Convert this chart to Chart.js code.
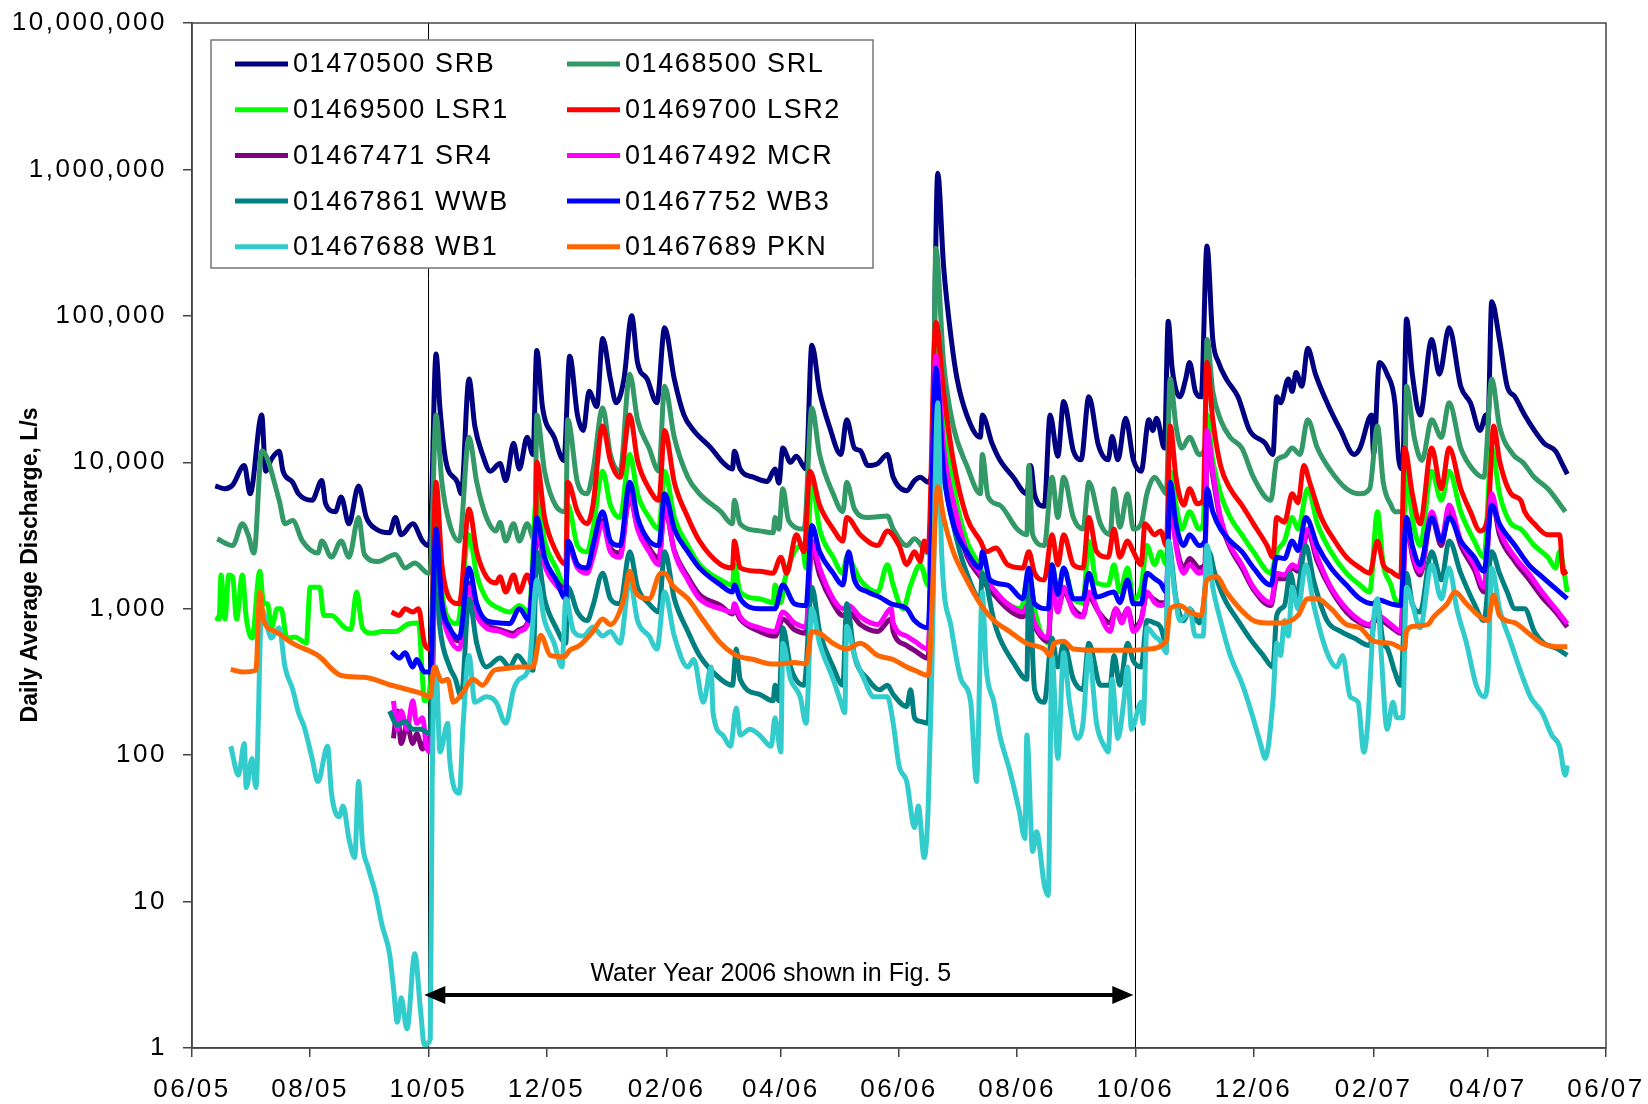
<!DOCTYPE html>
<html>
<head>
<meta charset="utf-8">
<script src="https://cdn.jsdelivr.net/npm/chart.js@4.4.0/dist/chart.umd.min.js"></script>
<style>
  html, body { margin: 0; padding: 0; background: #fff; }
</style>
</head>
<body>
<canvas id="flow" width="1648" height="1104"></canvas>
<script>
// x values are days since 1 June 2005, y values are daily average discharge in L/s
const tickDays = [0, 61, 122, 183, 245, 304, 365, 426, 487, 548, 610, 669, 730];
const tickLabels = ['06/05', '08/05', '10/05', '12/05', '02/06', '04/06', '06/06', '08/06', '10/06', '12/06', '02/07', '04/07', '06/07'];
const yTicks = [1, 10, 100, 1000, 10000, 100000, 1000000, 10000000];

const names = ['01470500 SRB', '01468500 SRL', '01469500 LSR1', '01469700 LSR2', '01467471 SR4',
               '01467492 MCR', '01467861 WWB', '01467752 WB3', '01467688 WB1', '01467689 PKN'];
const colors = ['#000080', '#339966', '#00FF00', '#FF0000', '#800080',
                '#FF00FF', '#008080', '#0000FF', '#33CCCC', '#FF6600'];

// water year 2006 marker
const waterYearStart = 122;
const waterYearEnd = 487;
const arrowLevel = 2.3;
const arrowText = 'Water Year 2006 shown in Fig. 5';

const srb = [[12,6900],[17,6600],[21,7000],[27,9500],[30,6100],[36,21000],[38,8700],[41,10500],[45,11900],[47,8700],[52,7300],[55,6100],[62,5500],[67,7500],[69,5200],[74,4600],[77,5800],[81,3800],[86,6900],[90,4200],[95,3500],[102,3300],[105,4200],[108,3200],[114,3800],[119,2900],[122,2700],[123,3000],[126,55000],[128,23500],[131,10300],[137,7300],[139,6100],[143,37000],[146,17700],[150,11300],[154,8700],[159,9800],[162,7500],[166,13500],[169,9000],[173,14800],[176,11300],[178,58000],[181,23500],[187,14800],[192,10300],[195,53000],[199,21000],[202,16500],[205,30500],[209,24000],[212,70000],[216,37000],[219,25500],[223,37000],[227,100000],[230,48000],[235,37000],[240,25500],[244,83000],[249,37000],[254,21000],[259,16500],[268,12500],[274,10000],[279,9000],[280,11900],[283,9000],[290,7900],[297,7400],[301,9000],[303,7200],[305,12500],[309,10000],[312,11000],[317,9000],[320,63000],[324,30500],[329,17700],[335,11300],[338,19500],[342,12500],[345,12000],[349,9500],[354,9800],[359,11300],[362,7900],[369,6400],[373,7500],[376,7900],[380,7300],[382,9000],[385,940000],[388,220000],[392,69000],[395,37000],[400,21000],[407,14800],[408,21000],[413,13500],[417,10400],[424,7900],[431,6100],[433,9500],[435,6000],[440,5000],[443,21000],[447,11000],[450,26000],[455,12000],[459,10400],[463,28000],[468,13000],[473,10400],[475,15000],[478,10400],[482,20000],[486,10400],[490,8700],[494,19500],[496,16500],[498,20000],[502,12500],[504,92000],[506,44000],[510,28000],[513,37000],[515,48000],[518,30500],[521,28000],[524,300000],[527,69000],[530,48000],[534,37000],[540,28000],[546,16500],[554,13500],[558,11300],[560,28000],[562,25500],[566,37000],[568,30500],[570,41000],[573,33000],[576,60000],[580,40000],[586,25500],[593,16500],[600,11300],[603,12500],[609,21000],[610,11300],[613,48000],[617,40000],[621,25500],[623,10500],[625,9000],[627,95000],[630,40000],[634,21000],[640,69000],[644,40000],[649,83000],[655,33000],[660,25500],[665,16500],[668,21000],[669,18000],[671,125000],[675,69000],[679,33000],[683,28000],[688,21000],[693,16500],[698,13500],[704,11900],[707,10000],[710,8300]];

const srl = [[13,3000],[21,2700],[26,3800],[29,3200],[32,2400],[36,12000],[45,5500],[48,3800],[52,4000],[57,2900],[65,2400],[67,2900],[72,2250],[77,2900],[81,2250],[86,4200],[89,2350],[96,2100],[105,2350],[110,1900],[115,2050],[122,1750],[123,1800],[126,21000],[129,7300],[133,3800],[138,2900],[143,14800],[147,7300],[152,4200],[157,3400],[159,3900],[162,2900],[166,3800],[169,2900],[173,3800],[177,2900],[178,21000],[182,8700],[188,5000],[193,4600],[194,19500],[199,7300],[204,6100],[207,8700],[212,23500],[216,11300],[221,8700],[226,40000],[230,19500],[236,12500],[241,8700],[244,33000],[249,14800],[256,7900],[262,6100],[273,4600],[279,3800],[280,5500],[283,3800],[293,3400],[300,3300],[301,4200],[303,3500],[305,6600],[308,4000],[316,3500],[320,23500],[324,11300],[331,6100],[336,4600],[338,7300],[342,4800],[349,4200],[359,4300],[362,3500],[369,2700],[373,3000],[380,2400],[382,2600],[384,290000],[388,48000],[393,17700],[400,9500],[407,6100],[408,11300],[411,5800],[417,5100],[426,3500],[431,3200],[432,9500],[434,3200],[440,2700],[444,7900],[447,4200],[450,7900],[455,4200],[460,3500],[463,7300],[469,3800],[474,3200],[476,6600],[479,3600],[483,6100],[486,3500],[490,3800],[493,6100],[497,7900],[500,7000],[503,6100],[505,37000],[508,17700],[511,12500],[515,14800],[520,11300],[523,12500],[524,69000],[527,30500],[531,19500],[536,14800],[542,12500],[548,7900],[557,5500],[560,10300],[564,11000],[568,12500],[572,11300],[576,19500],[581,12500],[588,8700],[596,6600],[603,6100],[608,6600],[612,17700],[615,7300],[619,5100],[621,4600],[626,4600],[627,33000],[631,14800],[635,10300],[640,19500],[645,14800],[649,25500],[655,12500],[662,8700],[667,7900],[671,37000],[675,17700],[682,11300],[687,10000],[693,7900],[700,6600],[709,4600]];

const lsr1 = [[12,870],[14,850],[15,1700],[17,850],[19,1700],[21,1650],[23,850],[26,1700],[28,870],[31,630],[35,1800],[37,1080],[39,1080],[41,740],[44,1000],[46,1000],[49,630],[53,640],[57,600],[59,580],[61,1400],[66,1400],[68,900],[72,900],[79,740],[82,720],[85,1300],[88,740],[93,680],[98,700],[105,700],[112,790],[117,800],[119,330],[120,235],[123,300],[126,4200],[129,1300],[133,830],[137,790],[143,3200],[147,1700],[152,1170],[159,1000],[164,950],[169,1050],[174,950],[178,6100],[182,2900],[188,1900],[193,1400],[194,5100],[199,2700],[204,2450],[207,3500],[212,8700],[216,5100],[221,4200],[226,11300],[230,6100],[236,4200],[241,3500],[244,8700],[249,4200],[256,2700],[262,2000],[273,1570],[279,1450],[280,2000],[283,1300],[293,1170],[300,1100],[301,1450],[304,1100],[306,1570],[311,2450],[315,2700],[317,1900],[320,7300],[324,3500],[331,2250],[336,1750],[338,2250],[345,1570],[354,1300],[359,2000],[362,1450],[367,1000],[371,1450],[376,2000],[380,1450],[384,60000],[388,21000],[395,5100],[400,2900],[407,1900],[410,1450],[417,1170],[428,1000],[432,1750],[435,1000],[438,700],[442,580],[444,2000],[447,1200],[450,1900],[455,1170],[460,1100],[463,2900],[467,1500],[473,1450],[476,2000],[479,1300],[483,1900],[486,1170],[490,1400],[493,2700],[497,2000],[500,2450],[503,2000],[505,8700],[508,5100],[511,3500],[515,4600],[520,3500],[522,3800],[524,21000],[527,10300],[531,6100],[536,4200],[542,3200],[548,2450],[557,1750],[560,2450],[564,2900],[568,4200],[571,3500],[576,6600],[581,3800],[588,2450],[596,1750],[603,1450],[608,1300],[612,4600],[615,2000],[619,1450],[621,1170],[624,1100],[627,8700],[630,4200],[634,2700],[640,8700],[645,5500],[649,8700],[655,4600],[662,2900],[667,2250],[671,12500],[675,6100],[681,3800],[686,3500],[693,2700],[700,2250],[704,1900],[706,2450],[710,1300]];

const lsr2 = [[103,950],[107,900],[110,1000],[114,950],[117,1000],[120,580],[123,530],[126,7300],[129,2000],[133,1170],[138,1080],[143,4800],[147,2450],[152,1650],[157,1500],[159,1650],[162,1300],[166,1700],[169,1300],[173,1700],[177,1300],[178,10000],[182,4200],[188,2450],[193,2000],[194,7300],[199,4600],[204,3800],[207,5100],[212,17700],[216,10300],[221,7900],[226,21000],[230,10300],[236,6600],[241,5500],[244,16500],[249,7300],[256,4200],[262,2900],[273,2000],[279,1900],[280,2900],[283,1900],[293,1800],[300,1750],[304,2250],[307,1750],[312,3200],[316,2450],[319,8700],[324,5100],[331,3500],[336,2900],[338,4200],[345,3200],[354,2700],[359,3400],[365,2700],[369,2000],[373,2450],[376,2100],[378,2900],[380,2450],[384,90000],[388,30500],[393,10300],[400,4200],[407,2900],[410,2450],[415,2600],[421,2000],[429,1900],[432,2450],[435,1750],[440,1570],[444,3200],[447,2000],[450,3200],[455,2000],[460,1900],[463,4200],[467,2450],[473,2250],[476,3500],[479,2250],[483,2900],[486,2450],[490,2000],[492,3800],[497,3200],[500,3400],[503,2700],[505,17700],[508,7900],[512,5100],[515,6600],[519,5200],[522,5500],[524,48000],[527,19500],[531,9500],[536,6600],[542,5100],[548,3800],[555,2700],[558,2250],[560,4200],[564,3900],[568,6100],[571,5300],[574,9500],[577,7300],[583,4200],[590,2900],[596,2250],[603,1900],[608,1750],[612,2900],[615,2000],[619,1800],[624,1650],[626,12500],[630,6100],[634,3800],[640,12500],[645,6600],[649,12500],[655,6600],[660,4600],[665,3400],[669,4200],[672,17700],[675,10300],[681,6100],[686,5500],[688,4600],[693,3800],[700,3200],[706,3200],[708,1750],[710,1800]];

const sr4 = [[104,130],[106,200],[108,120],[111,160],[114,120],[116,140],[119,110],[121,130],[123,120],[126,2600],[129,1100],[133,700],[138,600],[143,1500],[147,950],[152,780],[159,720],[166,680],[169,720],[174,850],[178,3200],[182,2100],[188,1550],[193,1350],[194,2800],[199,2000],[204,1850],[207,2400],[212,4000],[216,2600],[221,2400],[226,5800],[230,3600],[236,2600],[241,2200],[244,4800],[249,2500],[256,1650],[262,1250],[273,1050],[279,920],[280,1000],[283,850],[293,700],[301,650],[305,850],[311,720],[317,680],[320,2600],[324,1700],[331,1080],[336,900],[339,950],[345,780],[354,700],[361,850],[362,700],[369,560],[373,520],[380,460],[384,50000],[388,12000],[395,4000],[400,2300],[407,1650],[412,1350],[421,1000],[429,880],[432,1000],[435,760],[442,600],[444,1300],[447,1000],[450,1300],[455,1000],[460,900],[463,1200],[468,950],[474,800],[477,1000],[480,850],[483,1000],[486,750],[490,850],[493,1250],[497,1150],[500,1100],[503,1100],[505,5500],[508,2800],[512,1900],[515,2200],[520,1900],[523,2000],[524,15000],[527,8000],[531,4000],[536,2600],[542,1900],[548,1350],[557,1050],[560,1600],[564,1600],[568,1900],[571,1800],[576,3300],[581,2100],[588,1350],[596,950],[603,800],[608,760],[612,850],[619,750],[624,680],[627,3900],[630,2300],[634,1700],[640,4200],[645,2700],[649,4700],[655,2700],[662,1850],[667,1300],[671,5600],[675,3200],[683,2100],[690,1600],[697,1200],[704,950],[710,750]];

const mcr = [[104,235],[106,150],[108,200],[111,150],[114,235],[116,165],[119,180],[121,115],[123,105],[126,2900],[129,1000],[133,630],[138,530],[143,1400],[147,900],[152,740],[159,700],[166,650],[169,700],[174,830],[178,3500],[182,2000],[188,1450],[193,1300],[194,2700],[199,1900],[204,1750],[207,2250],[212,3800],[216,2450],[221,2250],[226,6100],[230,3500],[236,2450],[241,2000],[244,5100],[249,2450],[256,1570],[262,1170],[273,1000],[279,950],[280,1080],[283,880],[293,740],[301,700],[305,950],[311,800],[317,750],[320,2900],[324,1900],[331,1170],[336,1000],[339,1050],[345,880],[354,780],[361,1000],[362,800],[369,650],[373,600],[380,530],[384,53000],[388,12500],[395,4200],[400,2450],[407,1750],[412,1450],[421,1080],[429,950],[432,1080],[435,800],[442,630],[444,1400],[447,950],[450,1400],[455,950],[460,880],[463,1300],[468,950],[474,700],[477,1000],[480,800],[483,1000],[486,700],[490,830],[493,1300],[497,1100],[500,1050],[503,1100],[505,6100],[508,2700],[512,1750],[515,2000],[520,1750],[523,1900],[524,16500],[527,8700],[531,4200],[536,2700],[542,2000],[548,1400],[557,1100],[560,1750],[564,1700],[568,2000],[571,1900],[576,3500],[581,2250],[588,1400],[596,1000],[603,830],[608,780],[612,900],[619,780],[624,700],[627,4200],[630,2450],[634,1800],[640,4600],[645,2900],[649,5100],[655,2900],[662,2000],[667,1400],[671,6100],[675,3500],[683,2250],[690,1750],[697,1300],[704,1000],[710,790]];

const wwb = [[102,200],[106,160],[110,170],[114,150],[118,150],[123,140],[125,2450],[128,740],[133,400],[136,330],[139,250],[143,1170],[147,580],[152,400],[159,460],[164,400],[168,480],[173,400],[176,380],[178,2450],[182,1170],[188,740],[193,580],[194,1400],[199,950],[204,830],[207,1050],[212,1750],[216,1170],[221,1080],[226,2450],[230,1400],[236,1080],[241,950],[244,2450],[249,1170],[256,700],[262,480],[273,330],[279,300],[281,530],[283,330],[293,260],[300,235],[301,300],[303,235],[305,740],[309,400],[316,300],[320,1400],[324,700],[331,400],[336,300],[338,1080],[342,480],[349,330],[355,280],[359,300],[362,260],[369,215],[371,280],[373,180],[376,170],[380,165],[382,2450],[384,30000],[388,8700],[395,2900],[400,1750],[407,1170],[408,1750],[414,830],[417,630],[424,430],[431,330],[432,1750],[435,280],[440,230],[444,630],[447,400],[450,580],[455,330],[460,280],[463,580],[469,300],[474,300],[476,480],[479,300],[483,580],[486,440],[490,400],[493,830],[497,800],[500,750],[503,580],[504,2900],[508,1170],[512,830],[515,1000],[520,800],[522,1000],[525,2450],[528,1750],[533,1170],[540,830],[546,630],[553,480],[558,400],[560,900],[564,1050],[567,1750],[570,1200],[575,2700],[579,1570],[586,830],[593,700],[600,630],[608,560],[612,1080],[615,580],[617,540],[621,370],[624,300],[627,1750],[630,1080],[634,950],[640,2450],[645,1570],[649,2900],[655,1750],[662,1080],[667,830],[671,2450],[675,1750],[679,1300],[683,1000],[688,1000],[693,700],[698,580],[704,540],[710,480]];

const wb3 = [[103,510],[107,460],[110,500],[114,400],[116,450],[120,370],[123,370],[126,3500],[129,1080],[133,740],[138,630],[143,1900],[147,1080],[152,830],[159,800],[164,790],[169,1000],[174,830],[178,4200],[182,2250],[188,1570],[193,1170],[194,2900],[199,2000],[204,1900],[207,2700],[212,4600],[216,2900],[221,2700],[226,7300],[230,4200],[236,2900],[241,2700],[244,6100],[249,3500],[256,2450],[262,1900],[273,1450],[279,1300],[280,1450],[283,1170],[293,1000],[301,1000],[305,1450],[311,1080],[317,1050],[320,3700],[324,2450],[331,1750],[336,1450],[339,2450],[342,1570],[349,1300],[355,1200],[361,1080],[369,1000],[373,830],[380,740],[384,44000],[388,8700],[393,3800],[400,2450],[407,1900],[408,2450],[412,1570],[421,1450],[429,1170],[432,1900],[435,1080],[442,1000],[444,2000],[447,1250],[450,1900],[455,1170],[460,1170],[463,1750],[467,1200],[476,1300],[479,1100],[483,1570],[486,1080],[490,1080],[493,1750],[497,1600],[500,1500],[503,1300],[505,7300],[508,3800],[512,2700],[515,3200],[520,2700],[523,2900],[524,6600],[527,4600],[531,3500],[536,2900],[542,2450],[548,1900],[557,1450],[560,2250],[564,2200],[568,2900],[571,2500],[575,4200],[581,2700],[588,1900],[596,1450],[603,1170],[610,1080],[612,1150],[619,1080],[624,1050],[627,4200],[630,2700],[634,2000],[640,4200],[645,2900],[649,4200],[655,2900],[662,2250],[667,1800],[671,5100],[675,3800],[683,2700],[690,2000],[697,1650],[704,1370],[710,1170]];

const wb1 = [[20,115],[24,73],[27,120],[28,60],[31,95],[33,60],[36,1000],[39,740],[41,630],[45,740],[48,400],[52,280],[55,195],[58,155],[62,95],[65,66],[70,115],[72,55],[76,38],[78,45],[81,27],[84,20],[86,66],[88,25],[91,17],[95,11],[98,7],[102,4.4],[104,2.6],[106,1.5],[108,2.2],[111,1.35],[115,4.4],[118,1.8],[120,1.05],[123,1.15],[124,66],[126,400],[128,105],[132,165],[133,95],[138,55],[140,165],[143,480],[146,230],[152,250],[157,230],[162,165],[166,280],[169,330],[174,400],[178,1570],[182,830],[187,580],[191,400],[193,1170],[197,700],[202,650],[207,750],[212,650],[216,700],[221,580],[226,1570],[230,830],[236,650],[240,530],[244,1300],[249,650],[256,400],[259,450],[264,230],[268,400],[269,195],[274,137],[278,115],[281,210],[283,137],[288,150],[293,137],[299,115],[301,180],[304,105],[305,580],[309,330],[314,250],[317,165],[320,1000],[324,580],[331,330],[335,230],[337,195],[338,760],[342,480],[347,330],[352,250],[359,250],[362,165],[365,85],[369,66],[373,32],[375,45],[378,20],[380,42],[382,400],[385,25500],[387,2450],[392,740],[397,330],[402,230],[405,66],[408,1300],[410,400],[414,230],[417,137],[422,80],[427,42],[430,27],[431,137],[434,22],[436,30],[440,13],[442,11],[444,480],[447,95],[450,500],[453,230],[457,130],[460,165],[463,500],[467,165],[471,115],[473,105],[475,330],[478,130],[481,230],[483,400],[485,150],[490,230],[491,165],[493,740],[497,650],[500,600],[503,500],[504,2900],[507,1400],[510,830],[513,900],[515,1000],[518,650],[522,650],[524,2700],[527,1400],[531,830],[536,480],[542,310],[547,195],[552,115],[554,95],[558,230],[560,580],[562,480],[564,830],[566,650],[568,1400],[571,1000],[575,2000],[579,1080],[586,500],[591,400],[594,480],[598,250],[602,230],[605,105],[607,165],[610,830],[612,1170],[614,480],[617,150],[620,230],[622,180],[625,180],[627,1400],[630,1080],[634,740],[640,2000],[645,1170],[649,1900],[653,1000],[658,580],[663,300],[667,250],[669,330],[671,1900],[675,1000],[681,580],[686,370],[691,250],[697,195],[702,137],[706,115],[709,73],[710,85]];

const pkn = [[20,385],[26,370],[33,380],[35,1300],[37,830],[43,700],[52,580],[65,480],[77,350],[89,340],[103,300],[118,265],[123,250],[125,400],[129,320],[132,330],[135,230],[140,270],[145,330],[150,300],[156,380],[162,390],[169,400],[176,400],[180,660],[185,480],[192,470],[195,520],[200,560],[207,700],[212,850],[216,780],[223,1170],[226,1800],[229,1300],[236,1170],[242,1750],[244,1750],[248,1450],[256,1170],[264,830],[273,580],[281,480],[290,450],[299,420],[304,420],[311,430],[317,420],[320,700],[324,680],[331,580],[338,530],[345,580],[354,480],[362,450],[369,400],[373,380],[380,350],[385,6800],[388,4200],[393,2450],[400,1570],[407,1080],[414,830],[422,700],[431,580],[440,530],[443,480],[445,580],[450,600],[455,530],[469,520],[486,520],[493,530],[503,600],[505,1000],[510,1050],[515,950],[521,900],[524,1570],[529,1650],[534,1300],[541,1000],[548,830],[555,800],[562,800],[571,900],[576,1170],[581,1170],[588,1000],[596,780],[603,740],[610,600],[619,580],[626,530],[627,700],[631,760],[638,780],[641,880],[648,1080],[652,1300],[658,1080],[665,880],[669,830],[672,1240],[675,900],[683,800],[690,680],[697,580],[704,550],[710,550]];

const series = [srb, srl, lsr1, lsr2, sr4, mcr, wwb, wb3, wb1, pkn];

const FONT = "'Liberation Sans', Arial, sans-serif";

const decorations = {
  id: 'decorations',
  beforeDraw(chart) {
    chart.ctx.letterSpacing = '2.5px';
  },
  beforeDatasetsDraw(chart) {
    const { ctx, chartArea: a, scales: { x } } = chart;
    ctx.letterSpacing = '0px';
    ctx.save();
    ctx.strokeStyle = '#000';
    ctx.lineWidth = 1;
    [waterYearStart, waterYearEnd].forEach(d => {
      const px = Math.round(x.getPixelForValue(d)) + 0.5;
      ctx.beginPath();
      ctx.moveTo(px, a.top);
      ctx.lineTo(px, a.bottom);
      ctx.stroke();
    });
    ctx.restore();
  },
  afterDraw(chart) {
    const { ctx, chartArea: a, scales: { x, y } } = chart;
    ctx.save();
    ctx.letterSpacing = '0px';

    // plot frame
    ctx.strokeStyle = '#444';
    ctx.lineWidth = 1.5;
    ctx.strokeRect(a.left, a.top, a.right - a.left, a.bottom - a.top);

    // double arrow for water year 2006
    const x0 = x.getPixelForValue(waterYearStart) - 4;
    const x1 = x.getPixelForValue(waterYearEnd) - 2;
    const ay = y.getPixelForValue(arrowLevel);
    ctx.strokeStyle = '#000';
    ctx.fillStyle = '#000';
    ctx.lineWidth = 4;
    ctx.beginPath();
    ctx.moveTo(x0 + 18, ay);
    ctx.lineTo(x1 - 18, ay);
    ctx.stroke();
    ctx.beginPath();
    ctx.moveTo(x0, ay); ctx.lineTo(x0 + 21, ay - 9); ctx.lineTo(x0 + 21, ay + 9); ctx.closePath();
    ctx.fill();
    ctx.beginPath();
    ctx.moveTo(x1, ay); ctx.lineTo(x1 - 21, ay - 9); ctx.lineTo(x1 - 21, ay + 9); ctx.closePath();
    ctx.fill();
    ctx.font = '25px ' + FONT;
    ctx.textAlign = 'center';
    ctx.textBaseline = 'middle';
    ctx.fillText(arrowText, (x0 + x1) / 2 - 8, ay - 21);

    // y axis title
    ctx.save();
    ctx.translate(31, 565);
    ctx.rotate(-Math.PI / 2);
    ctx.font = 'bold 23px ' + FONT;
    ctx.fillText('Daily Average Discharge, L/s', 0, 0);
    ctx.restore();

    // legend box
    const lx = 211, ly = 40, lw = 662, lh = 228;
    ctx.fillStyle = '#fff';
    ctx.fillRect(lx, ly, lw, lh);
    ctx.strokeStyle = '#777';
    ctx.lineWidth = 1.5;
    ctx.strokeRect(lx, ly, lw, lh);
    ctx.font = '27px ' + FONT;
    ctx.letterSpacing = '1.6px';
    ctx.textAlign = 'left';
    names.forEach((name, i) => {
      const col = i % 2, row = Math.floor(i / 2);
      const sx = col === 0 ? 235 : 567;
      const sy = 64 + row * 45.7;
      ctx.strokeStyle = colors[i];
      ctx.lineWidth = 5;
      ctx.beginPath();
      ctx.moveTo(sx, sy);
      ctx.lineTo(sx + 53, sy);
      ctx.stroke();
      ctx.fillStyle = '#000';
      ctx.fillText(name, sx + 58, sy + 1);
    });
    ctx.restore();
  }
};

new Chart(document.getElementById('flow'), {
  type: 'line',
  data: {
    datasets: series.map((s, i) => ({
      label: names[i],
      data: s.map(p => ({ x: p[0], y: p[1] })),
      borderColor: colors[i],
      backgroundColor: colors[i],
      borderWidth: 5,
      borderJoinStyle: 'round',
      pointRadius: 0,
      cubicInterpolationMode: 'monotone',
      fill: false,
      order: series.length - 1 - i
    }))
  },
  options: {
    responsive: false,
    devicePixelRatio: 1,
    animation: false,
    layout: { padding: { top: 23, right: 42, left: 0, bottom: 0 } },
    plugins: { legend: { display: false }, tooltip: { enabled: false } },
    scales: {
      x: {
        type: 'linear',
        min: 0,
        max: 730,
        afterBuildTicks: s => { s.ticks = tickDays.map(v => ({ value: v })); },
        afterFit: s => { s.height = 56; s.paddingLeft = 0; s.paddingRight = 0; },
        ticks: {
          autoSkip: false,
          maxRotation: 0,
          padding: 17,
          color: '#000',
          font: { family: FONT, size: 26 },
          callback: (v, i) => tickLabels[i]
        },
        grid: { drawOnChartArea: false, drawTicks: true, tickLength: 9, color: '#444', lineWidth: 1.5 },
        border: { display: true, color: '#444', width: 1.5 }
      },
      y: {
        type: 'logarithmic',
        min: 1,
        max: 10000000,
        afterBuildTicks: s => { s.ticks = yTicks.map(v => ({ value: v })); },
        afterFit: s => { s.width = 192; s.paddingTop = 0; s.paddingBottom = 0; },
        ticks: {
          autoSkip: false,
          padding: 16,
          color: '#000',
          font: { family: FONT, size: 26 },
          callback: v => v.toLocaleString('en-US')
        },
        grid: { drawOnChartArea: false, drawTicks: true, tickLength: 9, color: '#444', lineWidth: 1.5 },
        border: { display: true, color: '#444', width: 1.5 }
      }
    }
  },
  plugins: [decorations]
});
</script>
</body>
</html>
